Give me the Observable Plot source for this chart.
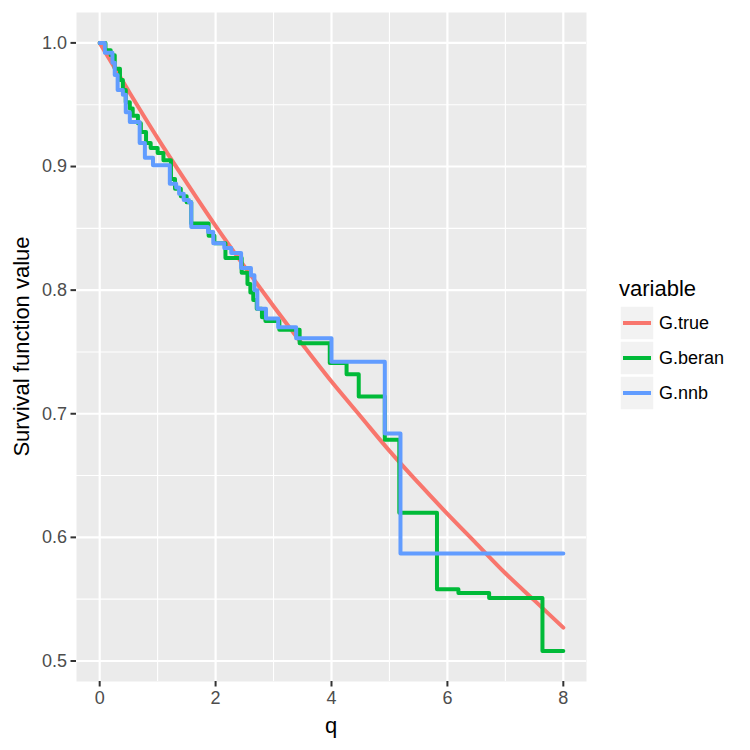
<!DOCTYPE html>
<html><head><meta charset="utf-8">
<script src="https://cdn.jsdelivr.net/npm/d3@7"></script>
<script src="https://cdn.jsdelivr.net/npm/@observablehq/plot@0.6"></script>
<style>body{margin:0;background:#fff;font-family:"Liberation Sans",Arial,sans-serif}</style>
</head><body><div id="chart"></div>
<script>
const seriesNames = ["G.true", "G.beran", "G.nnb"];
const seriesColors = ["#F8766D", "#00BA38", "#619CFF"];

const trueQ = [0, 0.5, 1, 1.5, 2, 2.5, 3, 3.5, 4, 4.5, 5, 5.5, 6, 6.5, 7, 7.5, 8];
const trueVal = [1.000, 0.961, 0.923, 0.887, 0.852, 0.819, 0.787, 0.756, 0.726, 0.698, 0.670, 0.644, 0.619, 0.595, 0.571, 0.549, 0.527];

const beranQ = [
  0.00, 0.10, 0.19, 0.26, 0.35, 0.40, 0.45, 0.52, 0.57, 0.66,
  0.71, 0.80, 0.88, 1.00, 1.10, 1.23, 1.30, 1.40, 1.50, 1.58,
  1.88, 1.98, 2.17, 2.45, 2.55, 2.60, 2.65, 2.71, 2.80, 2.86,
  3.10, 3.45, 3.97, 4.26, 4.47, 4.92, 5.17, 5.82, 6.19, 6.72,
  7.64, 8.00];
const beranVal = [
  1.000, 0.994, 0.990, 0.979, 0.970, 0.962, 0.952, 0.947, 0.941, 0.935,
  0.928, 0.919, 0.915, 0.911, 0.905, 0.890, 0.882, 0.876, 0.871, 0.854,
  0.844, 0.838, 0.826, 0.814, 0.805, 0.798, 0.792, 0.785, 0.778, 0.775,
  0.768, 0.757, 0.741, 0.732, 0.714, 0.679, 0.620, 0.558, 0.555, 0.551,
  0.508, 0.508];

const nnbQ = [
  0.00, 0.09, 0.22, 0.26, 0.31, 0.40, 0.45, 0.52, 0.69, 0.78,
  0.92, 1.21, 1.32, 1.37, 1.45, 1.54, 1.58, 1.87, 1.96, 2.15,
  2.27, 2.44, 2.61, 2.67, 2.72, 2.87, 3.08, 3.39, 4.00, 4.92,
  5.19, 8.00];
const nnbVal = [
  1.000, 0.992, 0.984, 0.974, 0.962, 0.958, 0.944, 0.936, 0.919, 0.907,
  0.901, 0.886, 0.883, 0.878, 0.873, 0.871, 0.851, 0.847, 0.838, 0.834,
  0.830, 0.818, 0.812, 0.800, 0.785, 0.777, 0.770, 0.761, 0.742, 0.684,
  0.587, 0.587];

const xTicks = [0, 2, 4, 6, 8];
const yTicks = [0.5, 0.6, 0.7, 0.8, 0.9, 1.0];
const xMinor = [1, 3, 5, 7];
const yMinor = [0.55, 0.65, 0.75, 0.85, 0.95];

const toRows = (qs, vs) => qs.map((q, i) => ({q, v: vs[i]}));
const trueRows = toRows(trueQ, trueVal);
const beranRows = toRows(beranQ, beranVal);
const nnbRows = toRows(nnbQ, nnbVal);

const lw = 4;

const chart = Plot.plot({
  width: 750, height: 750,
  marginLeft: 76, marginRight: 164, marginTop: 12, marginBottom: 69,
  style: {fontFamily: "Liberation Sans, Arial, sans-serif", fontSize: "18px", background: "white"},
  x: {domain: [-0.4, 8.4]},
  y: {domain: [0.4834, 1.0246]},
  marks: [
    Plot.frame({fill: "#EBEBEB", stroke: "none"}),
    Plot.ruleX(xMinor, {stroke: "white", strokeWidth: 1.1}),
    Plot.ruleY(yMinor, {stroke: "white", strokeWidth: 1.1}),
    Plot.ruleX(xTicks, {stroke: "white", strokeWidth: 2.2}),
    Plot.ruleY(yTicks, {stroke: "white", strokeWidth: 2.2}),
    Plot.line(trueRows, {x: "q", y: "v", stroke: seriesColors[0], strokeWidth: lw, curve: "monotone-x"}),
    Plot.line(beranRows, {x: "q", y: "v", stroke: seriesColors[1], strokeWidth: lw, curve: "step-after"}),
    Plot.line(nnbRows, {x: "q", y: "v", stroke: seriesColors[2], strokeWidth: lw, curve: "step-after"}),
    Plot.axisX(xTicks, {tickSize: 5.5, tickPadding: 4, stroke: "#333333", strokeWidth: 2, fill: "#4D4D4D", fontSize: 18, label: null}),
    Plot.axisY(yTicks, {tickSize: 5.5, tickPadding: 4, stroke: "#333333", strokeWidth: 2, fill: "#4D4D4D", fontSize: 18, label: null, tickFormat: d3.format(".1f")})
  ]
});

document.getElementById("chart").appendChild(chart);

const svg = d3.select(chart);
// axis titles
svg.append("text").attr("x", 331).attr("y", 733).attr("text-anchor", "middle")
  .attr("font-size", 22).attr("fill", "black").text("q");
svg.append("text").attr("transform", "translate(29,346.5) rotate(-90)").attr("text-anchor", "middle")
  .attr("font-size", 22).attr("fill", "black").text("Survival function value");

// legend
const lg = svg.append("g").attr("text-anchor", "start");
lg.append("text").attr("x", 619).attr("y", 296).attr("text-anchor", "start")
  .attr("font-size", 22).attr("fill", "black").text("variable");
seriesNames.forEach((name, i) => {
  const y0 = 306 + i * 35;
  lg.append("rect").attr("x", 620).attr("y", y0).attr("width", 34).attr("height", 34)
    .attr("fill", "#F2F2F2").attr("stroke", "white").attr("stroke-width", 1.5);
  lg.append("line").attr("x1", 623).attr("x2", 651).attr("y1", y0 + 17).attr("y2", y0 + 17)
    .attr("stroke", seriesColors[i]).attr("stroke-width", lw);
  lg.append("text").attr("x", 659).attr("y", y0 + 17).attr("dy", "0.35em").attr("text-anchor", "start")
    .attr("font-size", 18).attr("fill", "black").text(name);
});
</script>
</body></html>
